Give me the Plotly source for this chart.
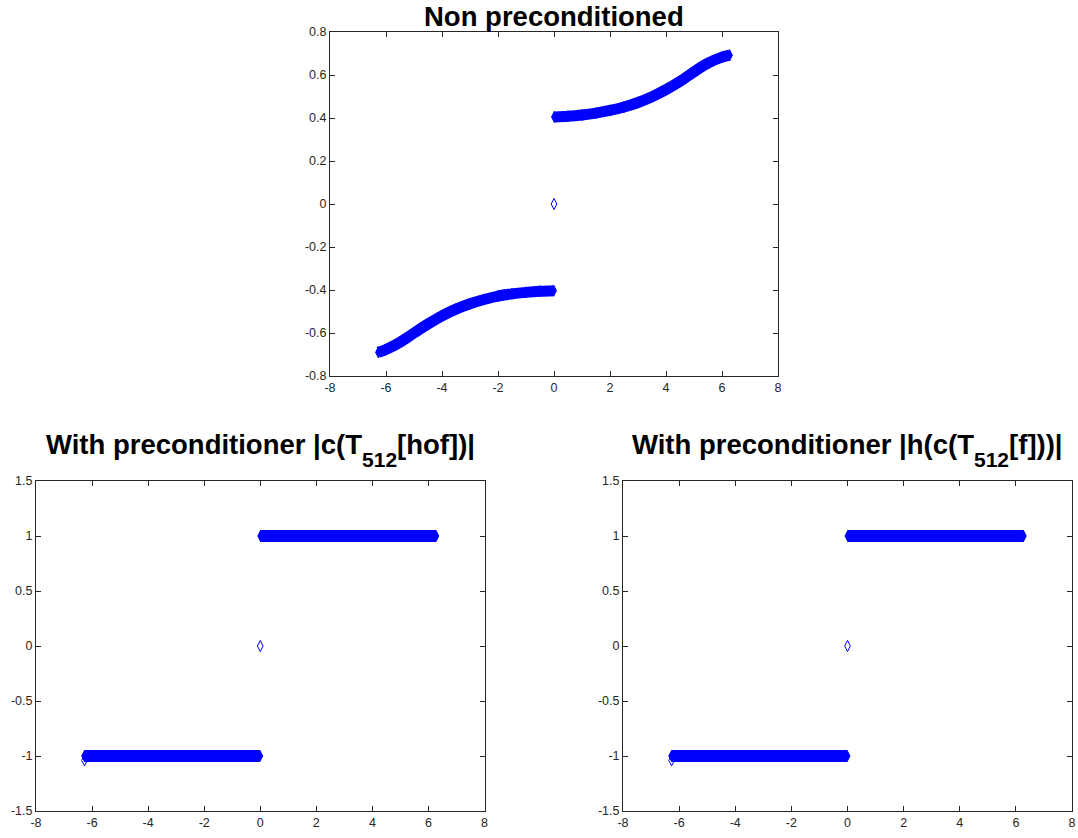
import plotly.graph_objects as go

# ---------------- data ----------------
# Top panel: "Non preconditioned"
top_upper_x = [0.012, 0.5, 1.0, 1.5, 2.0, 2.5, 3.0, 3.5, 4.0, 4.5, 5.0, 5.5, 6.0, 6.27]
top_upper_y = [0.405, 0.408, 0.414, 0.423, 0.435, 0.451, 0.472, 0.499, 0.532, 0.570, 0.615, 0.655, 0.683, 0.692]
top_lower_x = [-6.27, -6.0, -5.5, -5.0, -4.5, -4.0, -3.5, -3.0, -2.5, -2.0, -1.5, -1.0, -0.5, -0.012]
top_lower_y = [-0.690, -0.677, -0.643, -0.600, -0.558, -0.520, -0.489, -0.464, -0.444, -0.428, -0.418, -0.411, -0.406, -0.403]
top_center_x = [0.0]
top_center_y = [0.0]

# Bottom-left panel: |c(T512[hof])|
bl_upper_x = [0.012, 1.0, 2.0, 3.0, 4.0, 5.0, 6.27]
bl_upper_y = [1.0, 1.0, 1.0, 1.0, 1.0, 1.0, 1.0]
bl_lower_x = [-6.27, -5.0, -4.0, -3.0, -2.0, -1.0, -0.012]
bl_lower_y = [-1.0, -1.0, -1.0, -1.0, -1.0, -1.0, -1.0]
bl_single_x = [0.0, -6.27]
bl_single_y = [0.0, -1.04]

# Bottom-right panel: |h(c(T512[f]))|
br_upper_x = [0.012, 1.0, 2.0, 3.0, 4.0, 5.0, 6.27]
br_upper_y = [1.0, 1.0, 1.0, 1.0, 1.0, 1.0, 1.0]
br_lower_x = [-6.27, -5.0, -4.0, -3.0, -2.0, -1.0, -0.012]
br_lower_y = [-1.0, -1.0, -1.0, -1.0, -1.0, -1.0, -1.0]
br_single_x = [0.0, -6.27]
br_single_y = [0.0, -1.04]

# tick labels
x_tickvals = [-8, -6, -4, -2, 0, 2, 4, 6, 8]
x_ticktext = ["-8", "-6", "-4", "-2", "0", "2", "4", "6", "8"]
top_y_tickvals = [-0.8, -0.6, -0.4, -0.2, 0, 0.2, 0.4, 0.6, 0.8]
top_y_ticktext = ["-0.8", "-0.6", "-0.4", "-0.2", "0", "0.2", "0.4", "0.6", "0.8"]
bot_y_tickvals = [-1.5, -1, -0.5, 0, 0.5, 1, 1.5]
bot_y_ticktext = ["-1.5", "-1", "-0.5", "0", "0.5", "1", "1.5"]

SUB = "<sub><span style='font-size:21px;baseline-shift:-7px'>512</span></sub>"
titles = ["Non preconditioned",
          "With preconditioner |c(T" + SUB + "[hof])|",
          "With preconditioner |h(c(T" + SUB + "[f]))|"]

# ---------------- figure ----------------
BLUE = "#0000FF"
AX = "#262626"
FONT = "Liberation Sans, Arial, Helvetica, sans-serif"
W, H = 1078, 838

fig = go.Figure()

def band(x, y, xa, ya, lw):
    fig.add_trace(go.Scatter(
        x=x, y=y, xaxis=xa, yaxis=ya, mode="lines+markers",
        line=dict(color=BLUE, width=lw, shape="spline"),
        marker=dict(symbol="diamond-tall", size=8, color=BLUE,
                    line=dict(color=BLUE, width=1)),
        showlegend=False, hoverinfo="x+y"))

def single(x, y, xa, ya):
    fig.add_trace(go.Scatter(
        x=x, y=y, xaxis=xa, yaxis=ya, mode="markers",
        marker=dict(symbol="diamond-tall-open", size=8, color=BLUE,
                    line=dict(color=BLUE, width=1)),
        showlegend=False, hoverinfo="x+y"))

# top panel
band(top_upper_x, top_upper_y, "x", "y", 11)
band(top_lower_x, top_lower_y, "x", "y", 11)
single(top_center_x, top_center_y, "x", "y")
# bottom-left
band(bl_upper_x, bl_upper_y, "x2", "y2", 12)
band(bl_lower_x, bl_lower_y, "x2", "y2", 12)
single(bl_single_x, bl_single_y, "x2", "y2")
# bottom-right
band(br_upper_x, br_upper_y, "x3", "y3", 12)
band(br_lower_x, br_lower_y, "x3", "y3", 12)
single(br_single_x, br_single_y, "x3", "y3")

def axis(domain, anchor, rng, tv, tt):
    return dict(domain=domain, anchor=anchor, range=rng,
                tickmode="array", tickvals=tv, ticktext=tt,
                showline=True, linecolor=AX, linewidth=1, mirror="allticks",
                ticks="inside", ticklen=5, tickcolor=AX, tickwidth=1,
                tickfont=dict(family=FONT, size=12.5, color=AX),
                showgrid=False, zeroline=False, fixedrange=True, automargin=False)

top_xd = [330 / W, 778 / W]
top_yd = [1 - 376 / H, 1 - 32 / H]
bl_xd = [36 / W, 484.5 / W]
br_xd = [623 / W, 1072 / W]
bot_yd = [1 - 811 / H, 1 - 481 / H]

fig.update_layout(
    template="none",
    width=W, height=H,
    margin=dict(l=0, r=0, t=0, b=0, pad=0),
    paper_bgcolor="white", plot_bgcolor="white",
    font=dict(family=FONT),
    xaxis=axis(top_xd, "y", [-8, 8], x_tickvals, x_ticktext),
    yaxis=axis(top_yd, "x", [-0.8, 0.8], top_y_tickvals, top_y_ticktext),
    xaxis2=axis(bl_xd, "y2", [-8, 8], x_tickvals, x_ticktext),
    yaxis2=axis(bot_yd, "x2", [-1.5, 1.5], bot_y_tickvals, bot_y_ticktext),
    xaxis3=axis(br_xd, "y3", [-8, 8], x_tickvals, x_ticktext),
    yaxis3=axis(bot_yd, "x3", [-1.5, 1.5], bot_y_tickvals, bot_y_ticktext),
)

tfont = dict(family=FONT, size=27.5, color="black")
# top title anchored at the very top of the page, the two lower ones centred at their line
fig.add_annotation(text="<b>" + titles[0] + "</b>", x=(top_xd[0] + top_xd[1]) / 2, y=1,
                   xref="paper", yref="paper", xanchor="center", yanchor="top",
                   showarrow=False, font=tfont, borderpad=0)
for t, xd in zip(titles[1:], [bl_xd, br_xd]):
    fig.add_annotation(text="<b>" + t + "</b>", x=(xd[0] + xd[1]) / 2, y=1 - 450 / H,
                       xref="paper", yref="paper", xanchor="center", yanchor="middle",
                       showarrow=False, font=tfont)

fig.write_html("out.html")
